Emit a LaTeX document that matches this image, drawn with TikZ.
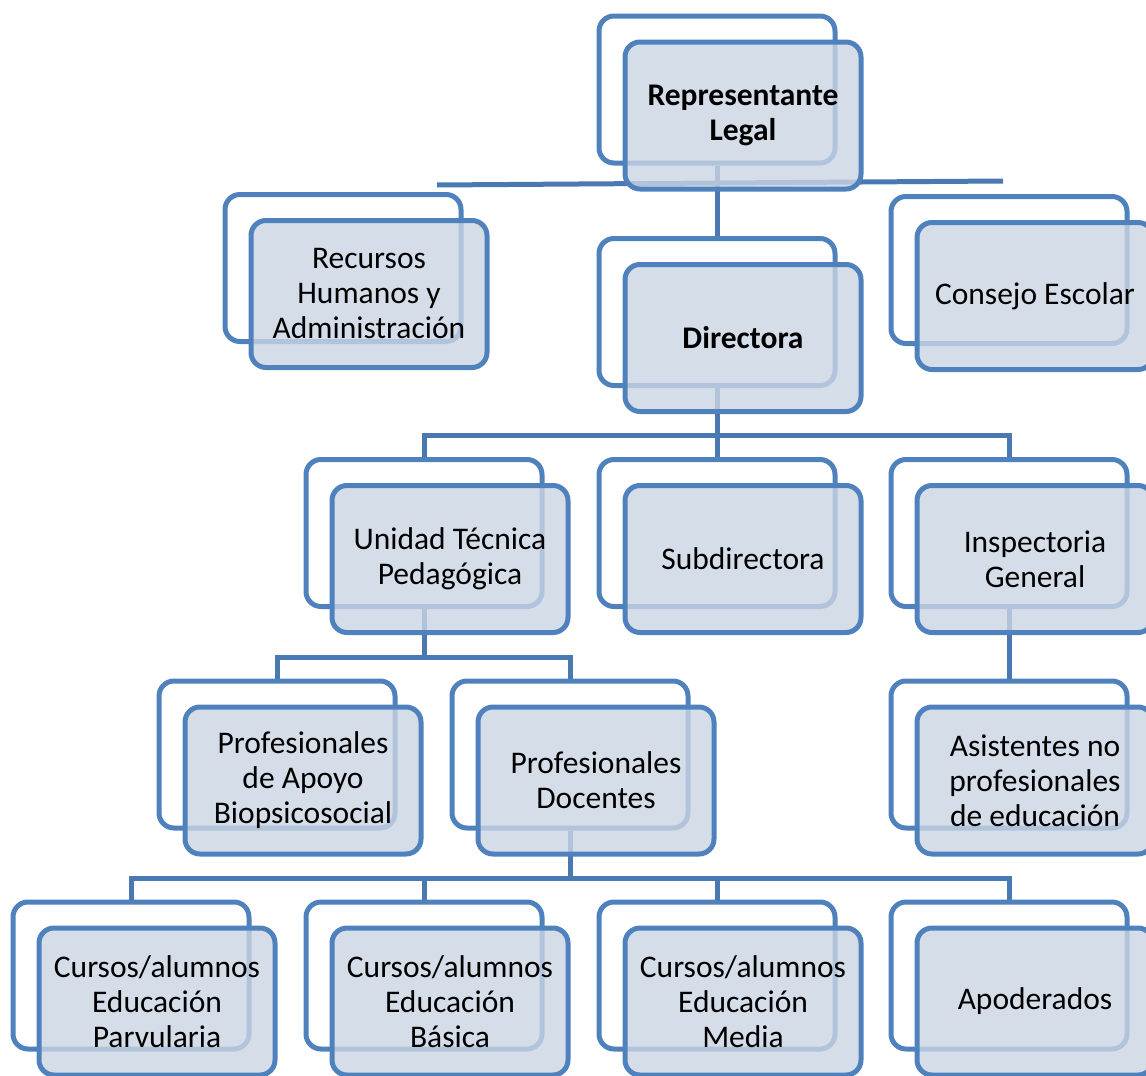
\documentclass[tikz,border=0pt]{standalone}
\usepackage{fontspec}
\setmainfont{Carlito}
\usetikzlibrary{calc}
\definecolor{boxline}{HTML}{4F81BD}
\definecolor{conline}{HTML}{4A78B0}
\definecolor{boxfill}{HTML}{CBD5E4}
\tikzset{
  backbox/.style={draw=boxline, line width=5pt, rounded corners=15pt, fill=white,
    minimum width=236pt, minimum height=147pt, inner sep=0pt},
  frontbox/.style={draw=boxline, line width=5pt, rounded corners=15pt, fill=boxfill,
    fill opacity=0.8, text opacity=1, minimum width=236pt, minimum height=147pt,
    inner sep=0pt, align=center, font=\fontsize{31.5}{35}\selectfont},
  conn/.style={draw=conline, line width=5pt},
}
\begin{document}
\begin{tikzpicture}[x=1pt,y=-1pt]
\useasboundingbox (0,0) rectangle (1146,1076);
\clip (0,0) rectangle (1146,1076);
% back boxes positions
\coordinate (rlc) at (717,89.5);
\coordinate (rhc) at (343,268);
\coordinate (dirc) at (717,312);
\coordinate (cec) at (1009,270);
\coordinate (utpc) at (424,533);
\coordinate (subc) at (717,533);
\coordinate (igc) at (1009,533);
\coordinate (pabc) at (277,754.5);
\coordinate (pdc) at (570,754.5);
\coordinate (asc) at (1009,754.5);
\coordinate (c1c) at (131,975.5);
\coordinate (c2c) at (424,975.5);
\coordinate (c3c) at (717,975.5);
\coordinate (apc) at (1009,975.5);
% back boxes
\foreach \n in {rl,rh,dir,ce,utp,sub,ig,pab,pd,as,c1,c2,c3,ap}{
  \node[backbox] (\n b) at (\n c) {};
}
% connectors
\coordinate (hl) at (437,185);
\coordinate (hr) at (1003,181);
\coordinate (bus3) at (717,435);
\coordinate (bus4) at (424,657);
\coordinate (bus5) at (570,878);
\draw[conn] (hl) -- (hr);
\draw[conn] (rlb.south) -- (dirb.north);
\draw[conn] (dirb.south) -- (bus3);
\draw[conn] (utpb.north) |- (bus3) -| (igb.north);
\draw[conn] (subb.north) -- (bus3);
\draw[conn] (utpb.south) -- (bus4);
\draw[conn] (pabb.north) |- (bus4) -| (pdb.north);
\draw[conn] (igb.south) -- (asb.north);
\draw[conn] (pdb.south) -- (bus5);
\draw[conn] (c1b.north) |- (bus5) -| (apb.north);
\draw[conn] (c2b.north) -- (c2b.north |- bus5);
\draw[conn] (c3b.north) -- (c3b.north |- bus5);
% front boxes
\node[frontbox] (rl) at ($(rlc)+(26,26)$) {\textbf{Representante}\\\textbf{Legal}};
\node[frontbox] (rh) at ($(rhc)+(26,26)$) {Recursos\\Humanos y\\Administración};
\node[frontbox] (dir) at ($(dirc)+(26,26)$) {\textbf{Directora}};
\node[frontbox] (ce) at ($(cec)+(26,26)$) {Consejo Escolar};
\node[frontbox] (utp) at ($(utpc)+(26,26)$) {Unidad Técnica\\Pedagógica};
\node[frontbox] (sub) at ($(subc)+(26,26)$) {Subdirectora};
\node[frontbox] (ig) at ($(igc)+(26,26)$) {Inspectoria\\General};
\node[frontbox] (pab) at ($(pabc)+(26,26)$) {Profesionales\\de Apoyo\\Biopsicosocial};
\node[frontbox] (pd) at ($(pdc)+(26,26)$) {Profesionales\\Docentes};
\node[frontbox] (as) at ($(asc)+(26,26)$) {Asistentes no\\profesionales\\de educación};
\node[frontbox] (c1) at ($(c1c)+(26,26)$) {Cursos/alumnos\\Educación\\Parvularia};
\node[frontbox] (c2) at ($(c2c)+(26,26)$) {Cursos/alumnos\\Educación\\Básica};
\node[frontbox] (c3) at ($(c3c)+(26,26)$) {Cursos/alumnos\\Educación\\Media};
\node[frontbox] (ap) at ($(apc)+(26,26)$) {Apoderados};
\end{tikzpicture}
\end{document}
